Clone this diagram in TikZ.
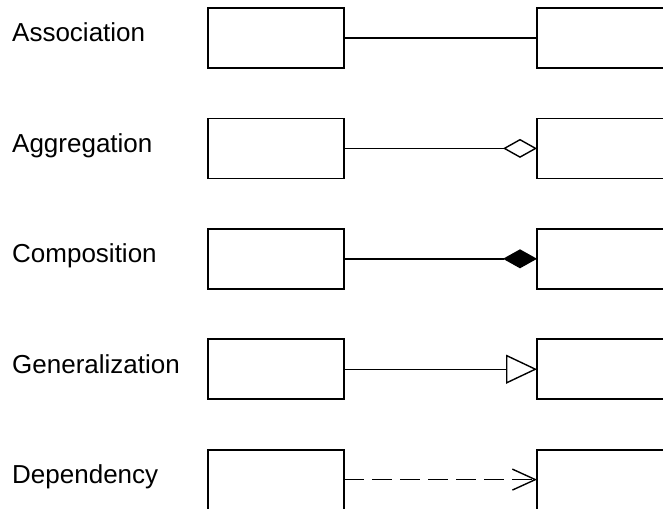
\documentclass[tikz,border=0pt]{standalone}
\usepackage{fontspec}
\setmainfont{Liberation Sans}
\usetikzlibrary{arrows.meta}
\begin{document}
\begin{tikzpicture}[x=1pt,y=-1pt,
  cls/.style={draw,line width=1.8pt,minimum width=136pt,minimum height=60pt,inner sep=0pt,outer sep=0pt},
  rcls/.style={draw,line width=1.8pt,minimum width=200pt,minimum height=60pt,inner sep=0pt,outer sep=0pt,anchor=west},
  lbl/.style={anchor=base west,inner sep=0pt,font=\fontsize{26}{30}\selectfont},
  conn/.style={line width=1.4pt}]
\useasboundingbox (0,0) rectangle (663,508);
\clip (0,0) rectangle (663,508);
\foreach \i/\t in {1/Association,2/Aggregation,3/Composition,4/Generalization,5/Dependency}{
  \pgfmathsetmacro{\yc}{38+110.4*(\i-1)}
  \pgfmathsetmacro{\yb}{42+110.4*(\i-1)}
  \node[lbl] (t\i) at (12,\yb) {\t};
  \node[cls] (L\i) at (276,\yc) {};
  \node[rcls] (R\i) at (537,\yc) {};
}
\draw[conn] (L1.east) -- (R1.west);
\draw[conn,-{Diamond[open,length=34pt,width=19pt,line width=1.4pt]}] (L2.east) -- (R2.west);
\draw[conn,-{Diamond[length=34pt,width=19pt]}] (L3.east) -- (R3.west);
\draw[conn,-{Triangle[open,length=31pt,width=29pt,line width=1.4pt]}] (L4.east) -- (R4.west);
\draw[conn,dash pattern=on 20pt off 8pt,-{Straight Barb[length=23pt,width=21pt,line width=1.4pt]}] (L5.east) -- (R5.west);
\end{tikzpicture}
\end{document}
